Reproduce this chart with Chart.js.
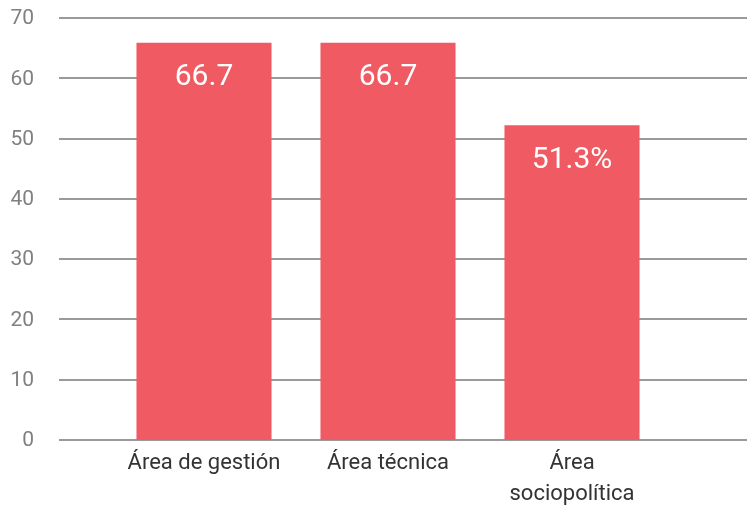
<!DOCTYPE html>
<html>
<head>
<meta charset="utf-8">
<script src="https://cdn.jsdelivr.net/npm/chart.js@4.4.1/dist/chart.umd.min.js"></script>
<style>
html,body{margin:0;padding:0;background:#fff;overflow:hidden;}
#wrap{position:relative;width:747px;height:506px;}
</style>
</head>
<body>
<div id="wrap"><canvas id="c"></canvas></div>
<script>
const categories = ["Área de gestión", "Área técnica", ["Área", "sociopolítica"]];
const values = [65.9, 65.9, 52.2];
const valueLabels = ["66.7", "66.7", "51.3%"];
const yTicks = [0, 10, 20, 30, 40, 50, 60, 70];

const FONT = "Roboto, 'Open Sans', sans-serif";

const gridPlugin = {
  id: 'fullGrid',
  beforeDatasetsDraw(chart) {
    const y = chart.scales.y;
    const ctx = chart.ctx;
    ctx.save();
    ctx.strokeStyle = '#9a9a9a';
    ctx.lineWidth = 2;
    yTicks.forEach(v => {
      const py = Math.round(y.getPixelForValue(v));
      ctx.beginPath();
      ctx.moveTo(59, py);
      ctx.lineTo(chart.width, py);
      ctx.stroke();
    });
    // y tick labels, right aligned
    ctx.fillStyle = '#808080';
    ctx.font = "21px " + FONT;
    ctx.textAlign = 'right';
    ctx.textBaseline = 'middle';
    yTicks.forEach(v => {
      const py = y.getPixelForValue(v);
      ctx.fillText(String(v), 34, py + 1);
    });
    ctx.restore();
  }
};

const labelPlugin = {
  id: 'barLabels',
  afterDatasetsDraw(chart) {
    const ctx = chart.ctx;
    const meta = chart.getDatasetMeta(0);
    ctx.save();
    ctx.fillStyle = '#ffffff';
    ctx.font = "30px " + FONT;
    ctx.textAlign = 'center';
    ctx.textBaseline = 'middle';
    meta.data.forEach((bar, i) => {
      ctx.fillText(valueLabels[i], bar.x, bar.y + 35);
    });
    ctx.restore();
  }
};

new Chart(document.getElementById('c'), {
  type: 'bar',
  data: {
    labels: categories,
    datasets: [{
      data: values,
      backgroundColor: '#f05a63',
      borderWidth: 0,
      barPercentage: 0.734,
      categoryPercentage: 1.0
    }]
  },
  options: {
    responsive: true,
    maintainAspectRatio: false,
    animation: false,
    events: [],
    layout: { padding: { top: 18, right: 83, left: 0, bottom: 0 } },
    plugins: { legend: { display: false }, tooltip: { enabled: false } },
    scales: {
      x: {
        afterFit(scale) { scale.height = 66; },
        grid: { display: false, drawTicks: false },
        border: { display: false },
        ticks: {
          color: '#333333',
          font: { family: FONT, size: 22, lineHeight: 1.4 },
          maxRotation: 0,
          autoSkip: false,
          padding: 8
        }
      },
      y: {
        min: 0, max: 70,
        afterFit(scale) { scale.width = 112; },
        grid: { display: false, drawTicks: false },
        border: { display: false },
        afterBuildTicks(scale) { scale.ticks = yTicks.map(v => ({ value: v })); },
        ticks: { display: false }
      }
    }
  },
  plugins: [gridPlugin, labelPlugin]
});
</script>
</body>
</html>
